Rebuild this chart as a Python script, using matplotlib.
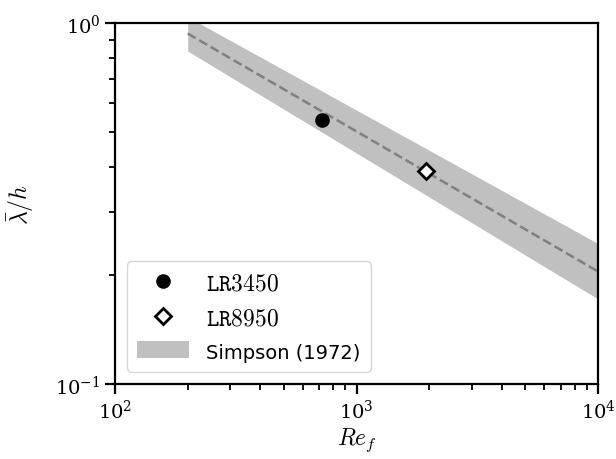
import matplotlib
matplotlib.use("Agg")
import matplotlib.pyplot as plt
from matplotlib.ticker import NullFormatter

plt.rcParams['mathtext.fontset'] = 'cm'
plt.rcParams['font.family'] = 'serif'
plt.rcParams['font.serif'] = ['DejaVu Serif']

# measured cases
re_lr3450 = [720]
lam_lr3450 = [0.539]
re_lr8950 = [1945]
lam_lr8950 = [0.390]

# Simpson (1972) correlation, endpoints of the line and of the band
re_simpson = [200, 10000]
lam_simpson = [0.935, 0.205]
lam_lower = [0.836, 0.172]
lam_upper = [1.04, 0.245]

fig = plt.figure(figsize=(6.16, 4.6), dpi=100)
ax = fig.add_axes([0.1867, 0.163, 0.7841, 0.7848])

ax.fill_between(re_simpson, lam_lower, lam_upper, color='silver', lw=0,
                label='Simpson (1972)')
ax.plot(re_simpson, lam_simpson, '--', color='gray', lw=1.8)
ax.plot(re_lr3450, lam_lr3450, 'o', color='k', ms=9.5, label=r'$\mathtt{LR3450}$')
ax.plot(re_lr8950, lam_lr8950, 'D', mfc='w', mec='k', mew=2, ms=8,
        label=r'$\mathtt{LR8950}$')

ax.set_xscale('log')
ax.set_yscale('log')
ax.set_xlim(1e2, 1e4)
ax.set_ylim(1e-1, 1e0)
ax.yaxis.set_minor_formatter(NullFormatter())
ax.xaxis.set_minor_formatter(NullFormatter())
ax.set_xlabel(r'$Re_f$', fontsize=17, labelpad=3)
ax.set_ylabel(r'$\bar{\lambda}/h$', fontsize=17, labelpad=14)

for s in ax.spines.values():
    s.set_linewidth(1.6)
ax.tick_params(which='major', labelsize=14, width=1.6, length=7)
ax.tick_params(which='minor', width=1.3, length=4)

h, l = ax.get_legend_handles_labels()
leg = ax.legend([h[1], h[2], h[0]], [l[1], l[2], l[0]], loc='lower left',
                fontsize=17, handlelength=2.2, borderpad=0.45, labelspacing=0.5,
                handletextpad=0.7)
leg.get_texts()[2].set_family('DejaVu Sans')
leg.get_texts()[2].set_fontsize(14)

fig.savefig('out.png', dpi=100)
